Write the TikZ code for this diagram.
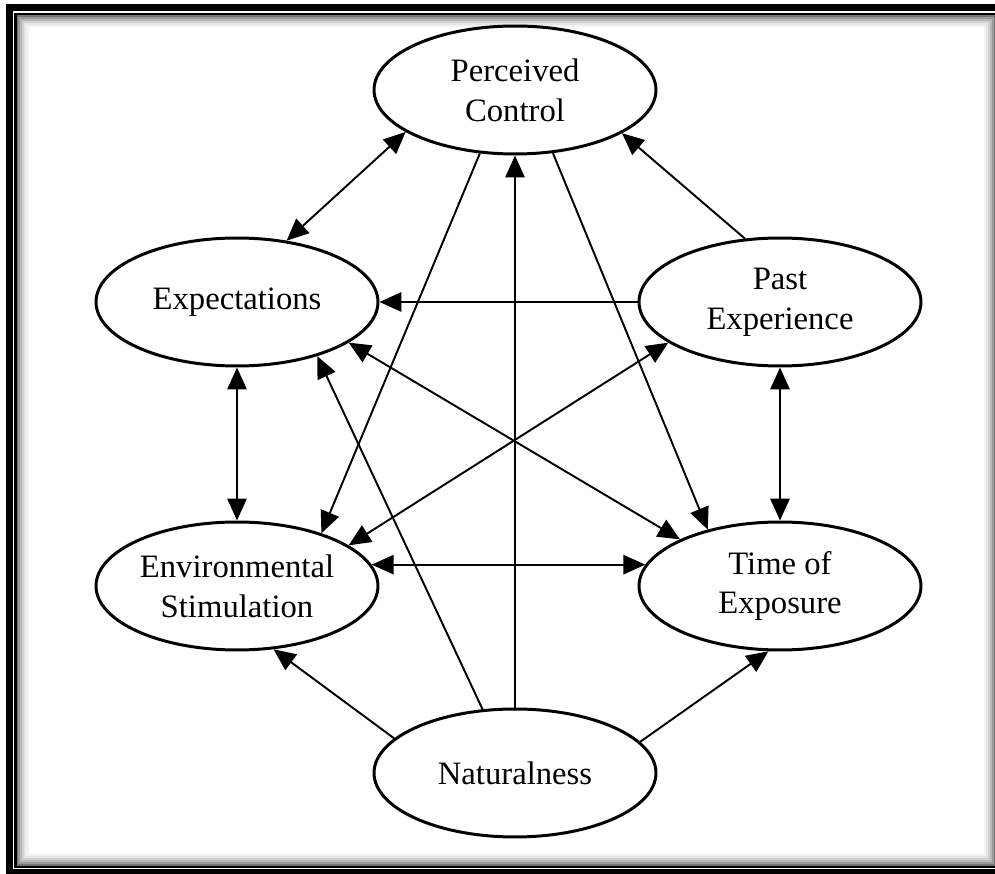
\documentclass[tikz,border=0pt]{standalone}
\usepackage{fontspec}
\setmainfont{Liberation Serif}
\usetikzlibrary{arrows.meta,shapes.geometric}

\begin{document}
\begin{tikzpicture}[x=0.02cm, y=-0.02cm,
    ell/.style={draw, ellipse, line width=1.7pt, minimum width=5.64cm, minimum height=2.56cm, inner sep=0pt, align=center, font=\fontsize{18.6}{22.7}\selectfont},
    arr/.style={-{Triangle[length=12.5pt, width=11pt]}, line width=1.1pt},
    twoway/.style={{Triangle[length=12.5pt, width=11pt]}-{Triangle[length=12.5pt, width=11pt]}, line width=1.1pt}
]
\useasboundingbox (0,0) rectangle (995,874);
% frame with inner shadow
\foreach \k/\g in {1/55,2/40,3/28,4/18,5/10,6/5}
    \draw[black!\g, line width=1.2pt] (15.5+2*\k,14+2*\k) rectangle (997-2*\k,867-2*\k);
\draw[line width=1.2pt] (15.5,14) rectangle (997,867);
\draw[line width=4pt] (9.5,7.5) rectangle (1000,873);

\node[ell] (pc) at (515,90) {Perceived\\Control};
\node[ell] (exp) at (237,302) {Expectations};
\node[ell] (pe) at (780,302) {Past\\Experience};
\node[ell] (env) at (237,586) {Environmental\\Stimulation};
\node[ell] (time) at (780,586) {Time of\\Exposure};
\node[ell] (nat) at (515,773) {Naturalness};

\draw[twoway] (exp.51) -- (pc.201);
\draw[arr] (pe.119.5) -- (pc.338);
\draw[arr] (pc.241.6) -- (env.32.5);
\draw[arr] (pc.301) -- (time.142.5);
\draw[arr] (nat.north) -- (pc.south);
\draw[arr] (pe.west) -- (exp.east);
\draw[twoway] (exp.340) -- (time.155);
\draw[twoway] (env.20) -- (pe.200.8);
\draw[arr] (nat.117) -- (exp.326);
\draw[twoway] (exp.south) -- (env.north);
\draw[twoway] (pe.south) -- (time.north);
\draw[twoway] (env.9) -- (time.171);
\draw[arr] (nat.164.6) -- (env.300);
\draw[arr] (nat.14.8) -- (time.260);
\end{tikzpicture}
\end{document}
